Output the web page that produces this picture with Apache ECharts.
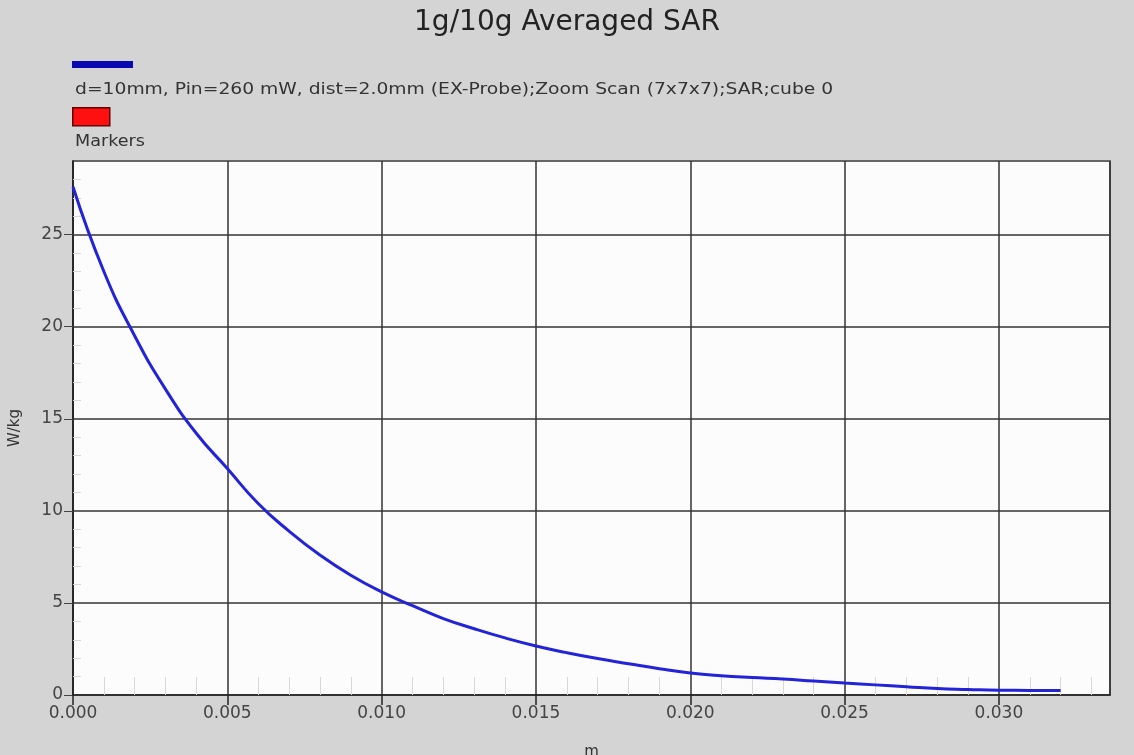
<!DOCTYPE html>
<html>
<head>
<meta charset="utf-8">
<script src="https://cdn.jsdelivr.net/npm/echarts@6/dist/echarts.min.js"></script>
<style>
html,body{margin:0;padding:0;background:#d4d4d4;}
#chart{width:1134px;height:755px;}
</style>
</head>
<body>
<div id="chart"></div>
<script>
var titleText = '1g/10g Averaged SAR';
var seriesName = 'd=10mm, Pin=260 mW, dist=2.0mm (EX-Probe);Zoom Scan (7x7x7);SAR;cube 0';
var markersName = 'Markers';
var xAxisName = 'm';
var yAxisName = 'W/kg';
var distances = [0,0.001,0.002,0.003,0.004,0.005,0.006,0.007,0.008,0.009,0.010,0.011,0.012,0.013,0.014,0.015,0.016,0.017,0.018,0.019,0.020,0.021,0.022,0.023,0.024,0.025,0.026,0.027,0.028,0.029,0.030,0.031,0.032];
var sarValues = [27.6,23.0,19.5,16.6,14.2,12.3,10.4,8.9,7.6,6.5,5.6,4.85,4.15,3.6,3.1,2.66,2.3,1.98,1.7,1.43,1.2,1.05,0.95,0.87,0.76,0.65,0.55,0.45,0.35,0.3,0.26,0.25,0.25];

var chart = echarts.init(document.getElementById('chart'));
var lineData = distances.map(function(d,i){return [d, sarValues[i]];});
var font = 'DejaVu Sans, sans-serif';
var minorAxisCommon = {
  axisLine:{show:false},
  axisTick:{show:false,inside:true},
  minorTick:{show:true,splitNumber:5,length:18,lineStyle:{color:'#d8d8d8',width:1}},
  axisLabel:{show:false},
  splitLine:{show:false}
};
chart.setOption({
  backgroundColor:'#d4d4d4',
  animation:false,
  title:{text:titleText,left:'center',top:4,textStyle:{fontFamily:font,fontSize:28,fontWeight:'normal',color:'#222'}},
  grid:{left:73,right:24,top:161,bottom:60,outerBoundsMode:'none',containLabel:false,show:true,backgroundColor:'#fcfcfc',borderColor:'#333',borderWidth:1.5},
  xAxis:[{type:'value',min:0,max:0.0336,interval:0.005,
    name:xAxisName,nameLocation:'middle',nameGap:50,nameTextStyle:{fontFamily:font,fontSize:15,color:'#333'},
    axisLine:{onZero:false,lineStyle:{color:'#222',width:1.5}},
    axisTick:{show:true,length:10,inside:false,lineStyle:{color:'#222',width:1.5}},
    axisLabel:{showMaxLabel:false,fontFamily:font,fontSize:17,color:'#444',margin:10,
      formatter:function(v){return v.toFixed(3);}},
    splitLine:{show:true,lineStyle:{color:'#333',width:1.5}}
  },
  Object.assign({type:'value',min:0,max:0.0336,interval:0.005,position:'bottom'},minorAxisCommon)],
  yAxis:[{type:'value',min:0,max:29,interval:5,
    name:yAxisName,nameLocation:'middle',nameGap:50,nameRotate:90,nameTextStyle:{fontFamily:font,fontSize:15,color:'#333'},
    axisLine:{onZero:false,lineStyle:{color:'#222',width:1.5}},
    axisTick:{show:true,length:9,lineStyle:{color:'#444',width:1}},
    axisLabel:{showMaxLabel:false,fontFamily:font,fontSize:17,color:'#444',margin:10},
    splitLine:{show:true,lineStyle:{color:'#666',width:2}}
  },
  Object.assign({type:'value',min:0,max:29,interval:5,position:'left'},minorAxisCommon,
    {minorTick:{show:true,splitNumber:5,length:8,lineStyle:{color:'#d8d8d8',width:1}}})],
  series:[{name:seriesName,type:'line',data:lineData,smooth:true,showSymbol:false,
    lineStyle:{color:'#2323d8',width:3},itemStyle:{color:'#2323d8'}}],
  graphic:[
    {type:'rect',left:72,top:61,shape:{width:61,height:7},style:{fill:'#0a0ab0'}},
    {type:'text',x:75,y:82,scaleX:1.17,style:{text:seriesName,fontFamily:font,fontSize:16,fill:'#333'}},
    {type:'rect',left:72,top:107,shape:{width:37,height:18},style:{fill:'#ff1010',stroke:'#600',lineWidth:1.5}},
    {type:'text',x:75,y:134,scaleX:1.1,style:{text:markersName,fontFamily:font,fontSize:16,fill:'#333'}}
  ]
});
</script>
</body>
</html>
